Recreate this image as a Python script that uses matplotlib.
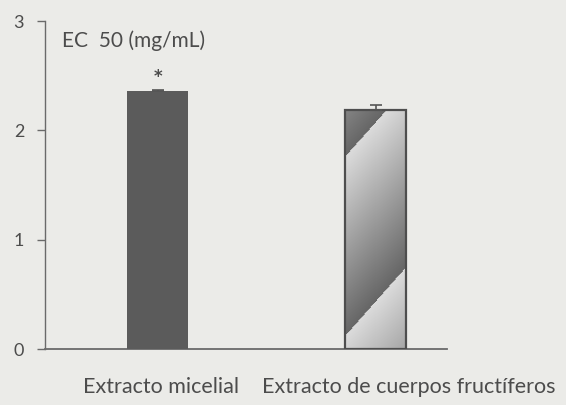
import numpy as np
import matplotlib.pyplot as plt
from matplotlib.patches import Rectangle

# data
categories = ["Extracto micelial", "Extracto de cuerpos fructíferos"]
ec50 = [2.36, 2.19]
err = [0.01, 0.04]
yticks = [0, 1, 2, 3]

bg = "#ebebe8"
txt = "#4c4c4c"

fig = plt.figure(figsize=(5.66, 4.05), dpi=100, facecolor=bg)
ax = fig.add_axes([0.0795, 0.138, 0.71, 0.81])
ax.set_facecolor(bg)

x = np.arange(len(categories))
w = 0.28
bars = ax.bar(x, ec50, width=w, color=["#5b5b5b", "none"],
              edgecolor=["#5b5b5b", "#4e4e4e"], linewidth=[0, 1.6], zorder=3)
ax.errorbar(x, ec50, yerr=[[0, 0], err], fmt="none", ecolor="#555555",
            elinewidth=1.2, capsize=4, capthick=1.2, zorder=4)

# diagonal sawtooth gradient for the second bar (pixel-ish grid, row 0 = top)
b = bars[1]
x0, x1 = b.get_x(), b.get_x() + b.get_width()
h = b.get_height()
xx, yy = np.meshgrid(np.linspace(0, 60, 60), np.linspace(0, 240, 240))
phase = ((yy + 1.15 * xx - 47) % 180) / 180.0
shade = 0.86 - 0.46 * phase
im = ax.imshow(shade, extent=[x0, x1, 0, h], origin="upper", cmap="gray",
               vmin=0, vmax=1, aspect="auto", interpolation="bilinear", zorder=2)
im.set_clip_path(Rectangle((x0, 0), x1 - x0, h, transform=ax.transData))

ax.set_xlim(-0.518, 1.326)
ax.set_ylim(0, 3)
ax.set_yticks(yticks)
ax.set_yticklabels([str(t) for t in yticks])
ax.set_xticks(x)
ax.set_xticklabels([])

for s in ["top", "right"]:
    ax.spines[s].set_visible(False)
ax.spines["left"].set_color("#6a6a6a")
ax.spines["bottom"].set_color("#6a6a6a")
ax.spines["left"].set_linewidth(1.0)
ax.spines["bottom"].set_linewidth(1.3)

ax.tick_params(axis="y", length=6, width=1.0, color="#6a6a6a",
               labelsize=13, labelcolor=txt, pad=9)
ax.tick_params(axis="x", length=0)
for lab in ax.get_yticklabels():
    lab.set_family("Lato")

# category labels sit under the bars like in the source (second one is shifted right)
xt = ax.get_xaxis_transform()
ax.text(x[0] + 0.015, -0.117, categories[0], ha="center", va="center",
        fontsize=15.5, color=txt, family="Lato", transform=xt)
ax.text(x[1] - 0.523, -0.117, categories[1], ha="left", va="center",
        fontsize=15.5, color=txt, family="Lato", transform=xt)

ax.text(0.042, 0.94, "EC  50 (mg/mL)", transform=ax.transAxes, fontsize=15,
        color=txt, family="Lato", va="center", ha="left")
ax.text(x[0], ec50[0] + 0.125, "*", ha="center", va="center", fontsize=12,
        color=txt, family="DejaVu Sans", fontweight="bold")

fig.savefig("out.png", dpi=100, facecolor=bg)
